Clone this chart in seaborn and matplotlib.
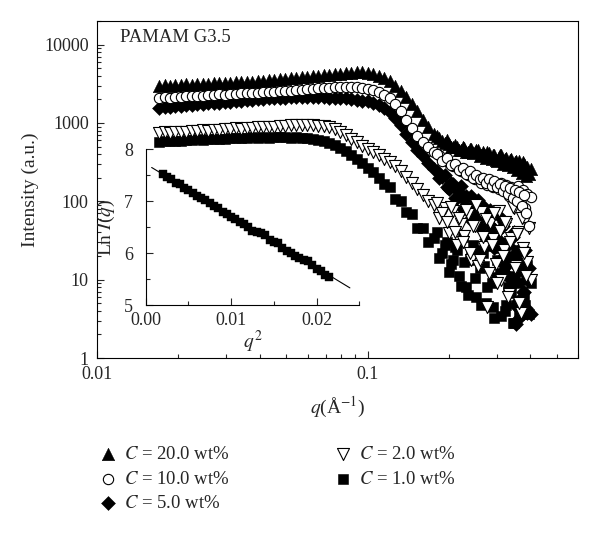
import seaborn as sns
import matplotlib.pyplot as plt
from matplotlib.ticker import FuncFormatter, NullFormatter, MultipleLocator

# q values (1/A) shared by all five curves
q = [0.0170, 0.0178, 0.0186, 0.0195, 0.0204, 0.0214, 0.0224, 0.0235, 0.0246, 0.0258,
     0.0270, 0.0283, 0.0297, 0.0311, 0.0326, 0.0341, 0.0358, 0.0375, 0.0393, 0.0411,
     0.0431, 0.0452, 0.0473, 0.0496, 0.0520, 0.0545, 0.0571, 0.0598, 0.0627, 0.0657,
     0.0688, 0.0721, 0.0756, 0.0792, 0.0830, 0.0870, 0.0911, 0.0955, 0.1001, 0.1049,
     0.1099, 0.1152, 0.1207, 0.1265, 0.1325, 0.1389, 0.1455, 0.1525, 0.1598, 0.1675,
     0.1755, 0.1839, 0.1927, 0.2000, 0.2070, 0.2140, 0.2210, 0.2280, 0.2350, 0.2420,
     0.2490, 0.2560, 0.2630, 0.2700, 0.2770, 0.2840, 0.2910, 0.2980, 0.3050, 0.3120,
     0.3190, 0.3260, 0.3330, 0.3400, 0.3470, 0.3540, 0.3610, 0.3680, 0.3750, 0.3820,
     0.3890, 0.3960, 0.4030]

# intensities (a.u.)
I_20 = [3000, 3050, 2980, 3070, 3040, 3110, 3080, 3150, 3120, 3180,
        3210, 3190, 3260, 3240, 3310, 3290, 3370, 3350, 3430, 3410,
        3500, 3540, 3610, 3590, 3700, 3740, 3830, 3860, 3950, 3990,
        4080, 4130, 4220, 4270, 4350, 4400, 4440, 4410, 4340, 4200,
        4000, 3750, 3400, 3000, 2550, 2150, 1750, 1400, 1100, 880,
        730, 640, 560, 540, 490, 500, 455, 480, 430, 460,
        420, 450, 390, 400, 425, 365, 395, 340, 370, 385,
        330, 355, 300, 345, 280, 325, 300, 260, 315, 240,
        275, 220, 260]

I_10 = [2100, 2130, 2110, 2160, 2150, 2200, 2180, 2230, 2220, 2270,
        2260, 2310, 2300, 2350, 2340, 2390, 2380, 2430, 2420, 2470,
        2460, 2510, 2520, 2570, 2580, 2630, 2640, 2700, 2710, 2770,
        2780, 2830, 2840, 2880, 2870, 2890, 2850, 2830, 2730, 2630,
        2500, 2300, 2060, 1760, 1440, 1100, 860, 690, 570, 490,
        420, 385, 335, 310, 280, 275, 240, 238, 215, 212,
        190, 205, 170, 185, 160, 178, 150, 168, 145, 172,
        140, 160, 118, 150, 128, 105, 155, 96, 138, 82,
        125, 48, 112]

I_5 = [1560, 1600, 1590, 1640, 1630, 1690, 1680, 1730, 1720, 1780,
       1770, 1820, 1830, 1850, 1900, 1900, 1950, 1950, 2000, 2000,
       2050, 2050, 2100, 2100, 2140, 2140, 2170, 2150, 2160, 2130,
       2130, 2090, 2090, 2050, 2050, 2000, 1990, 1930, 1900, 1810,
       1700, 1560, 1370, 1150, 930, 720, 566, 458, 374, 312,
       260, 199, 219, 143, 166, 110, 155, 103, 77, 118,
       60, 104, 61, 73, 37, 77, 46, 31, 64, 30,
       54, 15, 32, 10, 40, 2.7, 5.4, 22, 6.9, 24,
       3.8, 14, 3.6]

I_2 = [740, 755, 745, 765, 770, 770, 790, 785, 805, 800,
       820, 815, 835, 830, 850, 848, 868, 862, 882, 880,
       900, 895, 915, 912, 930, 928, 945, 938, 945, 920,
       905, 880, 840, 770, 700, 630, 565, 510, 465, 420,
       385, 350, 315, 280, 240, 205, 170, 145, 120, 100,
       90, 61, 81, 39, 75, 28, 52, 36, 68, 18,
       48, 15, 72, 26, 4.5, 53, 33, 16, 75, 10,
       24, 52, 6.5, 34, 82, 15, 40, 3.8, 25, 58,
       17, 45, 10]

I_1 = [570, 585, 580, 595, 590, 605, 600, 615, 612, 625,
       622, 632, 630, 640, 636, 646, 642, 652, 648, 656,
       650, 658, 652, 658, 650, 655, 645, 642, 622, 608,
       585, 555, 520, 480, 440, 395, 345, 305, 265, 235,
       200, 165, 150, 108, 100, 72, 68, 46, 45, 30,
       34, 19, 28, 12.6, 17.6, 24, 8.4, 17, 6.3, 22,
       10.4, 24, 4.7, 15, 8, 27, 4.5, 10.8, 25, 3.4,
       15, 4.8, 19, 6.8, 2.8, 24, 9, 3.6, 13, 4.8,
       15.6, 3.6, 9]

# extra high-q points (the noisy tail is much denser in the picture)
q_hi = [0.1800, 0.1880, 0.1960, 0.2035, 0.2105, 0.2175, 0.2245, 0.2315, 0.2385, 0.2455,
        0.2525, 0.2595, 0.2665, 0.2735, 0.2805, 0.2875, 0.2945, 0.3015, 0.3085, 0.3155,
        0.3225, 0.3295, 0.3365, 0.3435, 0.3505, 0.3575, 0.3645, 0.3715, 0.3785, 0.3855]
I_20_hi = [680, 590, 600, 500, 530, 450, 500, 420, 470, 410,
           455, 380, 430, 360, 410, 345, 385, 330, 390, 300,
           350, 290, 340, 270, 320, 250, 330, 230, 300, 210]
I_10_hi = [400, 330, 360, 290, 300, 250, 265, 220, 245, 200,
           215, 190, 200, 170, 192, 158, 180, 150, 165, 135,
           158, 125, 148, 110, 140, 100, 130, 88, 120, 70]
I_5_hi = [240, 205, 150, 170, 110, 130, 80, 118, 60, 90,
          70, 45, 88, 33, 52, 64, 25, 40, 18, 48,
          12, 28, 8, 35, 4.8, 20, 3.2, 14, 7, 4.4]
I_2_hi = [95, 70, 55, 85, 40, 62, 30, 78, 22, 48,
          90, 18, 35, 60, 12, 28, 70, 9, 42, 20,
          55, 6, 30, 85, 14, 38, 5, 62, 22, 11]
I_1_hi = [40, 22, 30, 16, 26, 11, 35, 8, 18, 28,
          6, 14, 22, 5, 30, 9, 3.2, 18, 12, 26,
          4, 8, 20, 2.8, 11, 16, 3.5, 24, 6, 10]

# Guinier inset: ln I vs q^2
q2_inset = [0.0020, 0.0025, 0.0030, 0.0035, 0.0040, 0.0045, 0.0050, 0.0055, 0.0060, 0.0065,
            0.0070, 0.0075, 0.0080, 0.0085, 0.0090, 0.0095, 0.0100, 0.0105, 0.0110, 0.0115,
            0.0120, 0.0125, 0.0130, 0.0135, 0.0140, 0.0145, 0.0150, 0.0155, 0.0160, 0.0165,
            0.0170, 0.0175, 0.0180, 0.0185, 0.0190, 0.0195, 0.0200, 0.0205, 0.0210, 0.0215]
lnI_inset = [7.53, 7.46, 7.43, 7.36, 7.33, 7.25, 7.21, 7.15, 7.11, 7.06,
             7.03, 6.96, 6.90, 6.86, 6.80, 6.76, 6.70, 6.66, 6.60, 6.57,
             6.50, 6.43, 6.40, 6.38, 6.34, 6.26, 6.22, 6.19, 6.10, 6.05,
             6.00, 5.95, 5.90, 5.86, 5.84, 5.78, 5.70, 5.65, 5.58, 5.54]
fit_q2 = [0.0007, 0.0239]
fit_lnI = [7.65, 5.33]

labels = ['$C$ = 20.0 wt%', '$C$ = 10.0 wt%', '$C$ = 5.0 wt%', '$C$ = 2.0 wt%', '$C$ = 1.0 wt%']

sns.set_style('ticks')
plt.rcParams['font.family'] = ['Liberation Serif', 'DejaVu Serif']
plt.rcParams['mathtext.fontset'] = 'stix'
plt.rcParams['xtick.direction'] = 'in'
plt.rcParams['ytick.direction'] = 'in'

fig = plt.figure(figsize=(6, 5.35), dpi=100)
ax = fig.add_axes([0.1617, 0.3308, 0.8017, 0.630])

qq = q + q_hi
# filled markers first, open ones on top
sns.scatterplot(x=qq, y=I_1 + I_1_hi, marker='s', s=62, color='black', edgecolor='black', linewidth=0.4, ax=ax, label=labels[4])
sns.scatterplot(x=qq, y=I_5 + I_5_hi, marker='D', s=50, color='black', edgecolor='black', linewidth=0.4, ax=ax, label=labels[2])
sns.scatterplot(x=qq, y=I_20 + I_20_hi, marker='^', s=80, color='black', edgecolor='black', linewidth=0.4, ax=ax, label=labels[0])
sns.scatterplot(x=qq, y=I_2 + I_2_hi, marker='v', s=75, color='white', edgecolor='black', linewidth=0.8, ax=ax, label=labels[3])
sns.scatterplot(x=qq, y=I_10 + I_10_hi, marker='o', s=55, color='white', edgecolor='black', linewidth=0.8, ax=ax, label=labels[1])

ax.set_xscale('log')
ax.set_yscale('log')
ax.set_xlim(0.01, 0.6)
ax.set_ylim(1, 20000)
fmt = FuncFormatter(lambda v, p: f'{v:g}')
ax.xaxis.set_major_formatter(fmt)
ax.yaxis.set_major_formatter(fmt)
ax.xaxis.set_minor_formatter(NullFormatter())
ax.yaxis.set_minor_formatter(NullFormatter())
ax.tick_params(which='major', length=5, width=0.8, labelsize=13, pad=6)
ax.tick_params(which='minor', length=3, width=0.8)
ax.tick_params(axis='x', which='both', top=False)
ax.tick_params(axis='y', which='both', right=False)
for sp in ax.spines.values():
    sp.set_visible(True)
    sp.set_linewidth(0.8)
    sp.set_color('black')
ax.set_xlabel('$q$(Å$^{-1}$)', fontsize=14, labelpad=8)
ax.set_ylabel('Intensity (a.u.)', fontsize=14, labelpad=4)
ax.text(0.048, 0.95, 'PAMAM G3.5', transform=ax.transAxes, fontsize=13.5, va='center', ha='left')

handles, labs = ax.get_legend_handles_labels()
if ax.get_legend() is not None:
    ax.get_legend().remove()
order = [labs.index(l) for l in labels]
fig.legend([handles[i] for i in order], [labs[i] for i in order], ncol=2,
           loc='upper left', bbox_to_anchor=(0.137, 0.198), frameon=False,
           fontsize=13.5, handlelength=1.0, handletextpad=0.35,
           labelspacing=0.4, columnspacing=5.5)

# inset
ax_in = fig.add_axes([0.2428, 0.4299, 0.356, 0.291])
ax_in.patch.set_alpha(0)
sns.scatterplot(x=q2_inset, y=lnI_inset, marker='s', s=40, color='black', edgecolor='black', linewidth=0.3, ax=ax_in)
sns.lineplot(x=fit_q2, y=fit_lnI, color='black', linewidth=0.8, ax=ax_in)
ax_in.set_xlim(0, 0.025)
ax_in.set_ylim(5, 8)
ax_in.spines['top'].set_visible(False)
ax_in.spines['right'].set_visible(False)
for sp in ['left', 'bottom']:
    ax_in.spines[sp].set_linewidth(0.8)
    ax_in.spines[sp].set_color('black')
ax_in.xaxis.set_major_locator(MultipleLocator(0.01))
ax_in.xaxis.set_minor_locator(MultipleLocator(0.005))
ax_in.yaxis.set_major_locator(MultipleLocator(1))
ax_in.yaxis.set_minor_locator(MultipleLocator(0.5))
ax_in.xaxis.set_major_formatter(FuncFormatter(lambda v, p: f'{v:.2f}'))
ax_in.tick_params(which='major', length=5, width=0.8, labelsize=13)
ax_in.tick_params(axis='x', pad=5)
ax_in.tick_params(axis='y', pad=9)
ax_in.tick_params(which='minor', length=3, width=0.8)
ax_in.set_xlabel('$q^2$', fontsize=14, labelpad=0)
ax_in.set_ylabel('Ln $I$($q$)', fontsize=14, labelpad=5)

fig.savefig('out.png', dpi=100)
